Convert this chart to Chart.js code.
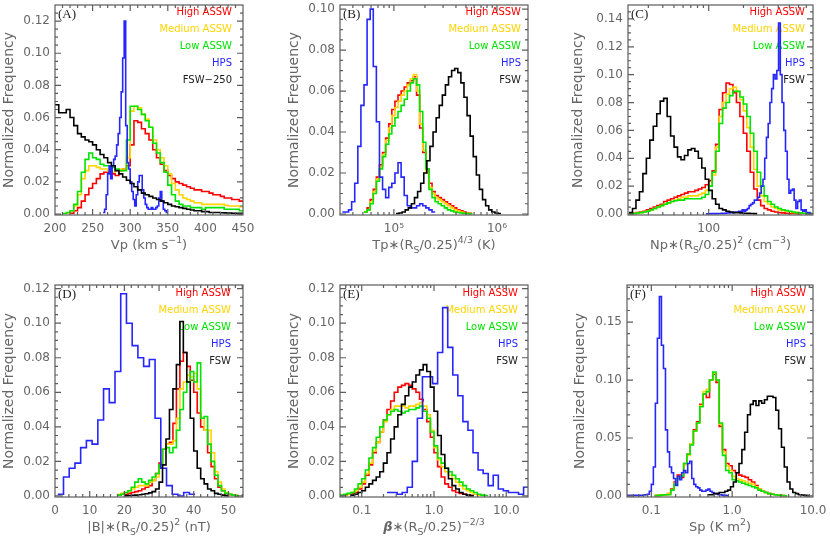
<!DOCTYPE html>
<html><head><meta charset="utf-8">
<script src="https://cdn.jsdelivr.net/npm/chart.js@4.4.1/dist/chart.umd.min.js"></script>
<style>
html,body{margin:0;padding:0;background:#fff;}
body{width:830px;height:538px;position:relative;overflow:hidden;}
canvas{position:absolute;}
</style></head><body>
<canvas id="cA"></canvas><canvas id="cB"></canvas><canvas id="cC"></canvas>
<canvas id="cD"></canvas><canvas id="cE"></canvas><canvas id="cF"></canvas>
<script>
// ---------------- DATA (bins: [first edge, bin width]; log panels use log10 edges) ----------------
const SERIES_NAMES = ["High ASSW", "Medium ASSW", "Low ASSW", "HPS"];

// Panel A: Vp (km/s)
const A_bins_high = [220, 5];
const A_high = [0.0005,0.002,0.004,0.008,0.012,0.016,0.019,0.022,0.025,0.026,0.026,0.025,0.024,0.027,0.028,0.030,0.043,0.058,0.057,0.053,0.050,0.046,0.040,0.035,0.031,0.027,0.024,0.022,0.020,0.019,0.018,0.017,0.016,0.015,0.015,0.014,0.014,0.013,0.012,0.012,0.011,0.010,0.010,0.009,0.009,0.008];
const A_bins_med = [215, 5];
const A_med = [0.0005,0.002,0.005,0.012,0.022,0.027,0.030,0.030,0.029,0.028,0.028,0.027,0.026,0.027,0.028,0.028,0.035,0.064,0.067,0.066,0.062,0.059,0.054,0.046,0.040,0.035,0.030,0.025,0.019,0.015,0.012,0.010,0.009,0.008,0.007,0.007,0.006,0.006,0.006,0.006,0.006,0.006,0.0055,0.005,0.005,0.005,0.0045];
const A_bins_low = [210, 5];
const A_low = [0.0003,0.001,0.002,0.006,0.014,0.026,0.034,0.038,0.035,0.034,0.031,0.030,0.030,0.029,0.028,0.027,0.027,0.046,0.067,0.067,0.065,0.062,0.058,0.054,0.044,0.038,0.032,0.026,0.018,0.012,0.008,0.006,0.005,0.005,0.004,0.004,0.004,0.003,0.004,0.004,0.004,0.004,0.004,0.003,0.003,0.003,0.003,0.002];
const A_bins_hps = [264, 2];
const A_hps = [0.001,0.003,0.012,0.025,0.030,0.022,0.030,0.034,0.036,0.043,0.050,0.060,0.076,0.097,0.120,0.055,0.032,0.028,0.020,0.014,0.009,0.005,0.012,0.020,0.024,0.024,0.015,0.010,0.006,0.004,0.003,0.003,0.004,0.003,0.003,0.004,0.005,0.010,0.014,0.008,0.003,0.002,0.001];
const A_bins_fsw = [200, 5];
const A_fsw = [0.068,0.063,0.063,0.065,0.060,0.055,0.050,0.048,0.046,0.045,0.043,0.040,0.037,0.035,0.032,0.030,0.027,0.025,0.023,0.021,0.019,0.017,0.015,0.013,0.012,0.011,0.010,0.009,0.008,0.007,0.006,0.005,0.0045,0.004,0.0035,0.003,0.0025,0.002,0.002,0.0015,0.0015,0.001,0.001,0.001,0.0008,0.0007,0.0006,0.0005,0.0005,0.0004];
const A_xticks = [200, 250, 300, 350, 400, 450];
const A_xlabels = ["200", "250", "300", "350", "400", "450"];
const A_yticks = [0, 0.02, 0.04, 0.06, 0.08, 0.10, 0.12];
const A_ylabels = ["0.00", "0.02", "0.04", "0.06", "0.08", "0.10", "0.12"];

// Panel B: Tp (log10 K)
const B_bins_high = [4.71, 0.03];
const B_high = [0.001,0.003,0.007,0.012,0.018,0.024,0.030,0.037,0.044,0.051,0.055,0.058,0.060,0.062,0.064,0.065,0.067,0.058,0.042,0.030,0.022,0.015,0.011,0.009,0.008,0.007,0.006,0.005,0.004,0.003,0.002,0.0015,0.001,0.0005,0.0003];
const B_bins_med = [4.71, 0.03];
const B_med = [0.001,0.002,0.006,0.011,0.017,0.023,0.029,0.036,0.042,0.048,0.052,0.055,0.058,0.060,0.063,0.066,0.068,0.060,0.044,0.031,0.020,0.013,0.010,0.008,0.007,0.006,0.005,0.004,0.003,0.002,0.0015,0.001,0.0005,0.0003,0.0002];
const B_bins_low = [4.71, 0.03];
const B_low = [0.001,0.002,0.005,0.010,0.016,0.022,0.028,0.034,0.039,0.043,0.047,0.050,0.053,0.056,0.060,0.064,0.066,0.063,0.050,0.035,0.022,0.012,0.008,0.006,0.005,0.004,0.003,0.002,0.0015,0.001,0.0007,0.0005,0.0003,0.0002,0.0001];
const B_bins_hps = [4.50, 0.03];
const B_hps = [0.001,0.001,0.002,0.006,0.015,0.033,0.053,0.063,0.095,0.100,0.072,0.045,0.018,0.012,0.008,0.013,0.015,0.020,0.025,0.018,0.009,0.004,0.003,0.003,0.004,0.005,0.004,0.003,0.002,0.001];
const B_bins_fsw = [5.02, 0.03];
const B_fsw = [0.0002,0.0005,0.001,0.002,0.003,0.005,0.008,0.011,0.015,0.020,0.026,0.033,0.040,0.047,0.053,0.058,0.063,0.067,0.070,0.071,0.069,0.064,0.057,0.048,0.038,0.028,0.019,0.012,0.007,0.004,0.002,0.001,0.0005,0.0002];
const B_xticks = [1e5, 1e6];
const B_xlabels = ["10\u2075", "10\u2076"];
const B_yticks = [0, 0.02, 0.04, 0.06, 0.08, 0.10];
const B_ylabels = ["0.00", "0.02", "0.04", "0.06", "0.08", "0.10"];

// Panel C: Np (log10 cm^-3)
const C_bins_high = [1.31, 0.03];
const C_high = [0.0002,0.0005,0.001,0.0015,0.002,0.003,0.004,0.005,0.006,0.007,0.009,0.010,0.011,0.012,0.013,0.014,0.015,0.016,0.016,0.017,0.018,0.019,0.021,0.024,0.031,0.050,0.075,0.087,0.094,0.093,0.087,0.080,0.070,0.058,0.045,0.030,0.018,0.010,0.006,0.004,0.003,0.002,0.0015,0.001,0.0008,0.0006,0.0005,0.0004,0.0003,0.0002];
const C_bins_med = [1.31, 0.03];
const C_med = [0.0002,0.0004,0.0007,0.001,0.0015,0.002,0.003,0.004,0.005,0.006,0.007,0.008,0.009,0.010,0.011,0.012,0.012,0.013,0.013,0.013,0.014,0.015,0.017,0.020,0.028,0.048,0.070,0.080,0.086,0.090,0.091,0.088,0.082,0.074,0.062,0.048,0.032,0.020,0.013,0.009,0.007,0.005,0.004,0.003,0.0025,0.002,0.0015,0.0012,0.001,0.0008,0.0006,0.0005,0.0004];
const C_bins_low = [1.31, 0.03];
const C_low = [0.0002,0.0004,0.0007,0.001,0.0015,0.002,0.003,0.004,0.005,0.006,0.007,0.008,0.009,0.0095,0.010,0.010,0.011,0.011,0.011,0.011,0.011,0.012,0.014,0.020,0.030,0.045,0.065,0.076,0.080,0.085,0.088,0.088,0.084,0.079,0.070,0.058,0.045,0.030,0.020,0.013,0.009,0.007,0.005,0.004,0.003,0.0025,0.002,0.0015,0.001,0.0008,0.0006,0.0005,0.0004];
const C_bins_hps = [1.975, 0.015];
const C_hps = [0.0002,0.0002,0.0002,0.0003,0.0003,0.0003,0.0003,0.0004,0.0004,0.0005,0.0005,0.0006,0.0007,0.0008,0.001,0.001,0.0012,0.0015,0.0015,0.002,0.002,0.003,0.002,0.003,0.004,0.006,0.007,0.008,0.010,0.010,0.012,0.015,0.020,0.025,0.040,0.055,0.065,0.080,0.090,0.100,0.097,0.103,0.137,0.100,0.080,0.060,0.045,0.025,0.015,0.017,0.018,0.010,0.004,0.009,0.010,0.003,0.002,0.003,0.001,0.001,0.0005];
const C_bins_fsw = [1.31, 0.03];
const C_fsw = [0.001,0.004,0.010,0.016,0.029,0.040,0.053,0.063,0.072,0.081,0.083,0.070,0.056,0.048,0.041,0.039,0.042,0.046,0.047,0.045,0.040,0.033,0.025,0.017,0.011,0.007,0.004,0.003,0.002,0.0015,0.001,0.001,0.0008,0.0006,0.0005,0.0004,0.0003];
const C_xticks = [100];
const C_xlabels = ["100"];
const C_yticks = [0, 0.02, 0.04, 0.06, 0.08, 0.10, 0.12, 0.14];
const C_ylabels = ["0.00", "0.02", "0.04", "0.06", "0.08", "0.10", "0.12", "0.14"];

// Panel D: |B| (nT)
const D_bins_high = [18, 1];
const D_high = [0.0005,0.001,0.001,0.0015,0.002,0.0025,0.003,0.004,0.005,0.006,0.009,0.013,0.019,0.027,0.030,0.031,0.042,0.062,0.078,0.083,0.075,0.067,0.060,0.048,0.040,0.038,0.025,0.017,0.010,0.005,0.003,0.0015,0.0008,0.0004,0.0002];
const D_bins_med = [18, 1];
const D_med = [0.001,0.0015,0.002,0.003,0.004,0.005,0.006,0.006,0.006,0.008,0.009,0.011,0.016,0.027,0.030,0.030,0.032,0.045,0.062,0.066,0.070,0.069,0.071,0.062,0.045,0.038,0.038,0.025,0.014,0.008,0.004,0.002,0.001,0.0005,0.0002];
const D_bins_low = [18, 1];
const D_low = [0.0005,0.001,0.002,0.003,0.005,0.008,0.010,0.008,0.007,0.009,0.011,0.013,0.018,0.027,0.028,0.025,0.028,0.038,0.050,0.060,0.066,0.072,0.066,0.077,0.045,0.046,0.030,0.020,0.012,0.006,0.003,0.0015,0.001,0.0005,0.0002];
const D_bins_hps = [0.8, 1.65];
const D_hps = [0.001,0.011,0.016,0.019,0.028,0.032,0.030,0.044,0.062,0.054,0.072,0.117,0.100,0.087,0.080,0.075,0.079,0.045,0.016,0.006,0.001,0.000,0.002,0.001];
const D_bins_fsw = [20, 1];
const D_fsw = [0.0002,0.0003,0.0004,0.0005,0.0007,0.001,0.0013,0.0018,0.0025,0.004,0.008,0.018,0.033,0.050,0.062,0.076,0.101,0.083,0.066,0.045,0.026,0.016,0.010,0.007,0.004,0.003,0.0015,0.001,0.0005,0.0002];
const D_xticks = [0, 10, 20, 30, 40, 50];
const D_xlabels = ["0", "10", "20", "30", "40", "50"];
const D_yticks = [0, 0.02, 0.04, 0.06, 0.08, 0.10, 0.12];
const D_ylabels = ["0.00", "0.02", "0.04", "0.06", "0.08", "0.10", "0.12"];

// Panel E: beta (log10)
const E_bins_high = [-1.30, 0.05];
const E_high = [0.0003,0.0005,0.001,0.0015,0.002,0.004,0.007,0.012,0.018,0.025,0.031,0.037,0.044,0.050,0.055,0.060,0.063,0.064,0.065,0.064,0.062,0.060,0.056,0.050,0.043,0.034,0.025,0.017,0.011,0.007,0.005,0.003,0.002,0.0015,0.001,0.0005,0.0003];
const E_bins_med = [-1.30, 0.05];
const E_med = [0.0003,0.0006,0.001,0.002,0.003,0.005,0.008,0.013,0.019,0.026,0.031,0.037,0.043,0.047,0.050,0.052,0.052,0.052,0.051,0.052,0.052,0.053,0.054,0.052,0.047,0.038,0.028,0.021,0.017,0.014,0.012,0.010,0.008,0.006,0.004,0.003,0.002,0.001,0.0005,0.0003];
const E_bins_low = [-1.30, 0.05];
const E_low = [0.0005,0.001,0.0015,0.002,0.004,0.007,0.010,0.015,0.022,0.028,0.034,0.040,0.044,0.047,0.049,0.050,0.049,0.048,0.049,0.050,0.050,0.051,0.052,0.049,0.045,0.037,0.029,0.022,0.019,0.016,0.014,0.012,0.010,0.008,0.006,0.004,0.003,0.002,0.001,0.0005,0.0003];
const E_bins_hps = [-0.65, 0.07];
const E_hps = [0.002,0.002,0.001,0.002,0.005,0.020,0.045,0.069,0.069,0.065,0.083,0.109,0.086,0.070,0.058,0.043,0.038,0.025,0.015,0.013,0.006,0.012,0.004,0.003,0.002,0.002,0.001,0.005];
const E_bins_fsw = [-1.15, 0.05];
const E_fsw = [0.0005,0.001,0.002,0.003,0.005,0.007,0.009,0.011,0.014,0.019,0.025,0.033,0.040,0.047,0.053,0.058,0.063,0.066,0.070,0.073,0.076,0.072,0.063,0.049,0.035,0.024,0.016,0.010,0.006,0.004,0.002,0.001,0.0005,0.0002];
const E_xticks = [0.1, 1, 10];
const E_xlabels = ["0.1", "1.0", "10.0"];
const E_yticks = [0, 0.02, 0.04, 0.06, 0.08, 0.10, 0.12];
const E_ylabels = ["0.00", "0.02", "0.04", "0.06", "0.08", "0.10", "0.12"];

// Panel F: Sp (log10 K m^2)
const F_bins_high = [-0.96, 0.04];
const F_high = [0.0003,0.0005,0.0008,0.001,0.002,0.006,0.012,0.018,0.016,0.028,0.036,0.045,0.057,0.064,0.079,0.088,0.085,0.100,0.105,0.098,0.060,0.040,0.028,0.026,0.022,0.020,0.018,0.017,0.016,0.014,0.012,0.009,0.006,0.004,0.003,0.002,0.0015,0.001,0.0006,0.0004,0.0002];
const F_bins_med = [-0.96, 0.04];
const F_med = [0.0003,0.0005,0.0008,0.001,0.002,0.005,0.011,0.016,0.017,0.027,0.035,0.045,0.056,0.063,0.078,0.090,0.092,0.100,0.106,0.100,0.062,0.038,0.026,0.022,0.017,0.015,0.014,0.013,0.012,0.011,0.010,0.008,0.006,0.004,0.003,0.002,0.0015,0.001,0.0006,0.0004,0.0002];
const F_bins_low = [-0.96, 0.04];
const F_low = [0.0003,0.0005,0.0008,0.001,0.001,0.005,0.010,0.015,0.017,0.028,0.036,0.044,0.056,0.063,0.077,0.088,0.090,0.100,0.107,0.100,0.063,0.035,0.022,0.020,0.014,0.013,0.012,0.011,0.010,0.009,0.008,0.007,0.005,0.004,0.003,0.002,0.0015,0.001,0.0006,0.0004,0.0002];
const F_bins_hps = [-1.30, 0.025];
const F_hps = [0.0005,0.0005,0.0005,0.0005,0.0005,0.0005,0.0005,0.0005,0.0008,0.001,0.0015,0.004,0.010,0.025,0.080,0.136,0.172,0.130,0.110,0.057,0.038,0.025,0.020,0.015,0.009,0.017,0.014,0.020,0.022,0.020,0.028,0.030,0.015,0.010,0.008,0.007,0.005,0.004,0.004,0.005,0.006,0.004,0.003,0.002,0.002,0.001,0.001,0.0005,0.0005,0.0003];
const F_bins_fsw = [-0.30, 0.035];
const F_fsw = [0.001,0.001,0.002,0.002,0.003,0.003,0.004,0.005,0.008,0.012,0.020,0.028,0.040,0.055,0.070,0.079,0.082,0.078,0.082,0.080,0.083,0.086,0.086,0.085,0.074,0.058,0.042,0.025,0.012,0.006,0.003,0.002,0.001,0.0008,0.0005,0.0003];
const F_xticks = [0.1, 1, 10];
const F_xlabels = ["0.1", "1.0", "10.0"];
const F_yticks = [0, 0.05, 0.10, 0.15];
const F_ylabels = ["0.00", "0.05", "0.10", "0.15"];

// ---------------- STYLE / LAYOUT ----------------
const FONT = 'DejaVu Sans';
const COL = { high: '#ff0000', med: '#ffd400', low: '#00e400', hps: '#2626ff', fsw: '#000000' };
const LEGEND_COLORS = [COL.high, COL.med, COL.low, COL.hps, '#1a1a1a'];

function series(bins, vals, color, order) { return { bins, vals, color, order }; }

const PANELS = [
  { name: 'A', canvas: [1, 0, 275, 268], area: { left: 55, right: 243, top: 5, bottom: 215 }, log: false,
    xMin: 200, xMax: 450, xTicks: A_xticks, xLabels: A_xlabels, xMinorStep: 10,
    yMin: -0.0006, yMax: 0.13, yTicks: A_yticks, yLabels: A_ylabels, yMinorStep: 0.005,
    tag: '(A)', fsw: 'FSW\u2212250', legendRight: 11, legendTop: 7,
    title: [['Vp (km s', ''], ['\u22121', 'sup'], [')', '']],
    series: [series(A_bins_fsw, A_fsw, COL.fsw, 0), series(A_bins_hps, A_hps, COL.hps, 1), series(A_bins_low, A_low, COL.low, 2), series(A_bins_med, A_med, COL.med, 3), series(A_bins_high, A_high, COL.high, 4)] },
  { name: 'B', canvas: [286, 0, 270, 268], area: { left: 340, right: 528, top: 5, bottom: 215 }, log: true,
    xMin: 3e4, xMax: 2e6, xTicks: B_xticks, xLabels: B_xlabels,
    yMin: -0.0005, yMax: 0.102, yTicks: B_yticks, yLabels: B_ylabels, yMinorStep: 0.005,
    tag: '(B)', fsw: 'FSW', legendRight: 7, legendTop: 7,
    title: [['Tp\u2217(R', ''], ['S', 'sub'], ['/0.25)', ''], ['4/3', 'sup'], [' (K)', '']],
    series: [series(B_bins_fsw, B_fsw, COL.fsw, 0), series(B_bins_hps, B_hps, COL.hps, 1), series(B_bins_low, B_low, COL.low, 2), series(B_bins_med, B_med, COL.med, 3), series(B_bins_high, B_high, COL.high, 4)] },
  { name: 'C', canvas: [570, 0, 260, 268], area: { left: 628, right: 813, top: 5, bottom: 215 }, log: true,
    xMin: 20, xMax: 800, xTicks: C_xticks, xLabels: C_xlabels,
    yMin: -0.0007, yMax: 0.15, yTicks: C_yticks, yLabels: C_ylabels, yMinorStep: 0.005,
    tag: '(C)', fsw: 'FSW', legendRight: 8, legendTop: 7,
    title: [['Np\u2217(R', ''], ['S', 'sub'], ['/0.25)', ''], ['2', 'sup'], [' (cm', ''], ['\u22123', 'sup'], [')', '']],
    series: [series(C_bins_fsw, C_fsw, COL.fsw, 0), series(C_bins_hps, C_hps, COL.hps, 1), series(C_bins_low, C_low, COL.low, 2), series(C_bins_med, C_med, COL.med, 3), series(C_bins_high, C_high, COL.high, 4)] },
  { name: 'D', canvas: [1, 268, 275, 270], area: { left: 55, right: 243, top: 285, bottom: 497 }, log: false,
    xMin: 0, xMax: 54.2, xTicks: D_xticks, xLabels: D_xlabels, xMinorStep: 2,
    yMin: -0.0006, yMax: 0.1221, yTicks: D_yticks, yLabels: D_ylabels, yMinorStep: 0.005,
    tag: '(D)', fsw: 'FSW', legendRight: 12, legendTop: 8,
    title: [['|B|\u2217(R', ''], ['S', 'sub'], ['/0.25)', ''], ['2', 'sup'], [' (nT)', '']],
    series: [series(D_bins_fsw, D_fsw, COL.fsw, 0), series(D_bins_hps, D_hps, COL.hps, 1), series(D_bins_low, D_low, COL.low, 2), series(D_bins_med, D_med, COL.med, 3), series(D_bins_high, D_high, COL.high, 4)] },
  { name: 'E', canvas: [286, 268, 270, 270], area: { left: 340, right: 528, top: 285, bottom: 497 }, log: true,
    xMin: 0.05, xMax: 20, xTicks: E_xticks, xLabels: E_xlabels,
    yMin: -0.0006, yMax: 0.1221, yTicks: E_yticks, yLabels: E_ylabels, yMinorStep: 0.005,
    tag: '(E)', fsw: 'FSW', legendRight: 10, legendTop: 8,
    title: [['\u03B2', 'bi'], ['\u2217(R', ''], ['S', 'sub'], ['/0.25)', ''], ['\u22122/3', 'sup']],
    series: [series(E_bins_fsw, E_fsw, COL.fsw, 0), series(E_bins_hps, E_hps, COL.hps, 1), series(E_bins_low, E_low, COL.low, 2), series(E_bins_med, E_med, COL.med, 3), series(E_bins_high, E_high, COL.high, 4)] },
  { name: 'F', canvas: [572, 268, 258, 270], area: { left: 627, right: 813, top: 285, bottom: 497 }, log: true,
    xMin: 0.05, xMax: 10, xTicks: F_xticks, xLabels: F_xlabels,
    yMin: -0.0009, yMax: 0.182, yTicks: F_yticks, yLabels: F_ylabels, yMinorStep: 0.01,
    tag: '(F)', fsw: 'FSW', legendRight: 7, legendTop: 8,
    title: [['Sp (K m', ''], ['2', 'sup'], [')', '']],
    series: [series(F_bins_fsw, F_fsw, COL.fsw, 0), series(F_bins_hps, F_hps, COL.hps, 1), series(F_bins_low, F_low, COL.low, 2), series(F_bins_med, F_med, COL.med, 3), series(F_bins_high, F_high, COL.high, 4)] }
];

// Build step points from bin edges (each value held across its bin)
function stepPoints(bins, vals, log) {
  const [start, width] = bins;
  const pts = [];
  for (let i = 0; i <= vals.length; i++) {
    const e = start + i * width;
    pts.push({ x: log ? Math.pow(10, e) : e, y: vals[Math.min(i, vals.length - 1)] });
  }
  return pts;
}

function drawRich(ctx, segs, cx, baseY, size) {
  const small = size * 0.72;
  const fontOf = k => k === 'sub' || k === 'sup' ? `${small}px "${FONT}"` : (k === 'bi' ? `bold italic ${size}px "${FONT}"` : `${size}px "${FONT}"`);
  let w = 0;
  const ws = segs.map(([t, k]) => { ctx.font = fontOf(k); const m = ctx.measureText(t).width; w += m; return m; });
  let x = cx - w / 2;
  ctx.textAlign = 'left'; ctx.textBaseline = 'alphabetic';
  segs.forEach(([t, k], i) => {
    ctx.font = fontOf(k);
    const dy = k === 'sub' ? size * 0.28 : (k === 'sup' ? -size * 0.45 : 0);
    ctx.fillText(t, x, baseY + dy);
    x += ws[i];
  });
}

function makePlugin(p) {
  return {
    id: 'hist' + p.name,
    beforeDatasetsDraw(chart) {
      const { ctx, chartArea: a } = chart;
      ctx.save();
      ctx.textBaseline = 'middle';
      ctx.textAlign = 'left';
      ctx.fillStyle = '#222';
      ctx.font = '13px "Liberation Serif"';
      ctx.fillText(p.tag, a.left + 3, a.top + 9.5);
      ctx.textAlign = 'right';
      ctx.font = `10px "${FONT}"`;
      const names = SERIES_NAMES.concat([p.fsw]);
      names.forEach((t, i) => {
        ctx.fillStyle = LEGEND_COLORS[i];
        ctx.fillText(t, a.right - p.legendRight, a.top + p.legendTop + i * 17.2);
      });
      ctx.restore();
    },
    afterDatasetsDraw(chart) {
      const { ctx, chartArea: a, scales: { x, y } } = chart;
      ctx.save();
      ctx.strokeStyle = '#5c5c5c';
      ctx.lineWidth = 1.2;
      ctx.strokeRect(a.left, a.top, a.right - a.left, a.bottom - a.top);
      ctx.beginPath();
      const xt = [];
      x.ticks.forEach(t => xt.push([t.value, 6]));
      if (p.log) {
        const k0 = Math.floor(Math.log10(p.xMin)), k1 = Math.ceil(Math.log10(p.xMax));
        for (let k = k0; k <= k1; k++) for (let m = 2; m <= 9; m++) xt.push([m * Math.pow(10, k), 3]);
      } else {
        for (let v = Math.ceil(p.xMin / p.xMinorStep) * p.xMinorStep; v <= p.xMax + 1e-9; v += p.xMinorStep) xt.push([v, 3]);
      }
      xt.forEach(([v, len]) => {
        const px = x.getPixelForValue(v);
        if (px <= a.left + 0.5 || px >= a.right - 0.5) return;
        ctx.moveTo(px, a.bottom); ctx.lineTo(px, a.bottom - len);
        ctx.moveTo(px, a.top); ctx.lineTo(px, a.top + len);
      });
      const yt = [];
      y.ticks.forEach(t => yt.push([t.value, 6]));
      for (let v = 0; v <= p.yMax + 1e-9; v += p.yMinorStep) yt.push([v, 3]);
      yt.forEach(([v, len]) => {
        const py = y.getPixelForValue(v);
        if (py <= a.top + 0.5 || py >= a.bottom - 0.5) return;
        ctx.moveTo(a.left, py); ctx.lineTo(a.left + len, py);
        ctx.moveTo(a.right, py); ctx.lineTo(a.right - len, py);
      });
      ctx.stroke();
      ctx.restore();
    },
    afterDraw(chart) {
      const { ctx, chartArea: a } = chart;
      ctx.save();
      ctx.fillStyle = '#666';
      drawRich(ctx, p.title, (a.left + a.right) / 2, a.bottom + 34, 13);
      ctx.restore();
    }
  };
}

PANELS.forEach(p => {
  const cv = document.getElementById('c' + p.name);
  const [cl, ct, cw, ch] = p.canvas;
  cv.width = cw; cv.height = ch;
  cv.style.left = cl + 'px'; cv.style.top = ct + 'px';
  cv.style.width = cw + 'px'; cv.style.height = ch + 'px';
  const yW = p.area.left - cl;
  const xH = ct + ch - p.area.bottom;
  const padR = cl + cw - p.area.right;
  const padT = p.area.top - ct;
  const zeroPad = s => { s.paddingLeft = 0; s.paddingRight = 0; s.paddingTop = 0; s.paddingBottom = 0; };
  const datasets = p.series.map(s => ({
    data: stepPoints(s.bins, s.vals, p.log),
    borderColor: s.color,
    borderWidth: 1.6,
    stepped: true,
    pointRadius: 0,
    fill: false,
    order: s.order
  }));
  new Chart(cv, {
    type: 'line',
    data: { datasets },
    options: {
      responsive: false, animation: false, devicePixelRatio: 1,
      layout: { padding: { left: 0, right: padR, top: padT, bottom: 0 } },
      plugins: { legend: { display: false }, tooltip: { enabled: false } },
      scales: {
        x: {
          type: p.log ? 'logarithmic' : 'linear',
          min: p.xMin, max: p.xMax,
          grid: { display: false, drawTicks: false }, border: { display: false },
          ticks: { color: '#666', font: { family: FONT, size: 12 }, padding: 7, autoSkip: false, maxRotation: 0,
                   callback: (v, i) => p.xLabels[i] },
          afterBuildTicks: s => { s.ticks = p.xTicks.map(v => ({ value: v })); },
          afterFit: s => { s.height = xH; zeroPad(s); }
        },
        y: {
          type: 'linear',
          min: p.yMin, max: p.yMax,
          grid: { display: false, drawTicks: false }, border: { display: false },
          ticks: { color: '#666', font: { family: FONT, size: 12 }, padding: 5, autoSkip: false,
                   callback: (v, i) => p.yLabels[i] },
          afterBuildTicks: s => { s.ticks = p.yTicks.map(v => ({ value: v })); },
          afterFit: s => { s.width = yW; zeroPad(s); },
          title: { display: true, text: 'Normalized Frequency', color: '#666', font: { family: FONT, size: 14 }, padding: 0 }
        }
      }
    },
    plugins: [makePlugin(p)]
  });
});
</script>
</body></html>
